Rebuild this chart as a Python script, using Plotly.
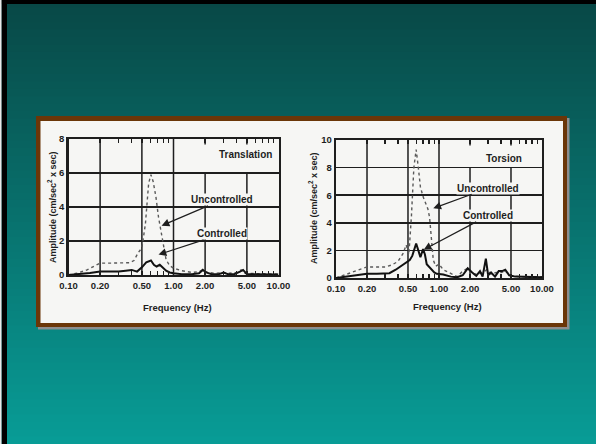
import numpy as np
import plotly.graph_objects as go

# ---------------- data ----------------
freq_ticks = [0.1, 0.2, 0.5, 1, 2, 5, 10]
freq_tick_labels = ["0.10", "0.20", "0.50", "1.00", "2.00", "5.00", "10.00"]
minor_ticks = [0.3, 0.4, 0.6, 0.7, 0.8, 0.9, 3, 4, 6, 7, 8, 9]

trans_unc_f = [0.10, 0.12, 0.15, 0.18, 0.20, 0.25, 0.30, 0.38, 0.42, 0.46,
               0.50, 0.54, 0.58, 0.61, 0.64, 0.68, 0.72, 0.76, 0.80, 0.85,
               0.92, 1.00, 1.2, 1.5, 1.75, 1.9, 2.1, 2.5, 3.0, 3.4,
               4.0, 4.4, 4.8, 6.0, 8.0, 10.0]
trans_unc_a = [0.0, 0.1, 0.3, 0.55, 0.7, 0.7, 0.7, 0.72, 0.85, 1.3,
               1.6, 3.0, 5.4, 5.9, 5.5, 4.6, 3.4, 2.6, 1.6, 0.9,
               0.55, 0.4, 0.25, 0.15, 0.2, 0.3, 0.15, 0.1, 0.15, 0.1,
               0.15, 0.3, 0.1, 0.08, 0.05, 0.05]

trans_con_f = [0.10, 0.13, 0.16, 0.20, 0.25, 0.30, 0.35, 0.40, 0.45, 0.50,
               0.55, 0.61, 0.65, 0.69, 0.74, 0.79, 0.85, 0.92, 1.00, 1.2,
               1.5, 1.75, 1.9, 2.05, 2.3, 2.7, 3.0, 3.3, 3.8, 4.3,
               4.6, 5.0, 6.0, 8.0, 10.0]
trans_con_a = [0.0, 0.05, 0.12, 0.2, 0.2, 0.2, 0.25, 0.3, 0.2, 0.45,
               0.75, 0.85, 0.6, 0.5, 0.6, 0.45, 0.25, 0.15, 0.1, 0.05,
               0.05, 0.1, 0.3, 0.15, 0.05, 0.05, 0.15, 0.05, 0.05, 0.2,
               0.3, 0.05, 0.05, 0.03, 0.03]

tors_unc_f = [0.10, 0.12, 0.15, 0.20, 0.25, 0.30, 0.35, 0.40, 0.45, 0.48,
              0.51, 0.54, 0.57, 0.60, 0.63, 0.66, 0.70, 0.74, 0.78, 0.81,
              0.84, 0.88, 0.93, 1.00, 1.1, 1.3, 1.5, 1.7, 1.9, 2.1,
              2.4, 2.7, 2.9, 3.2, 3.6, 4.0, 4.4, 5.0, 6.0, 8.0, 10.0]
tors_unc_a = [0.0, 0.2, 0.5, 0.8, 0.8, 0.8, 0.95, 1.2, 1.8, 2.4,
              1.7, 4.5, 8.0, 9.3, 8.0, 6.6, 5.9, 5.5, 5.0, 4.4,
              3.0, 1.3, 0.85, 1.0, 0.6, 0.35, 0.1, 0.5, 0.7, 0.3,
              0.3, 0.4, 0.6, 0.3, 0.4, 0.4, 0.5, 0.15, 0.1, 0.1, 0.1]

tors_con_f = [0.10, 0.13, 0.16, 0.20, 0.25, 0.30, 0.33, 0.38, 0.43, 0.48,
              0.52, 0.55, 0.58, 0.60, 0.63, 0.66, 0.70, 0.73, 0.76, 0.80,
              0.85, 0.90, 0.95, 1.0, 1.1, 1.3, 1.5, 1.7, 1.9, 2.1,
              2.3, 2.5, 2.65, 2.85, 3.0, 3.2, 3.5, 3.8, 4.1, 4.4,
              4.8, 5.5, 7.0, 10.0]
tors_con_a = [0.0, 0.1, 0.2, 0.3, 0.3, 0.3, 0.35, 0.6, 0.9, 1.1,
              1.3, 1.6, 2.2, 2.5, 2.0, 1.5, 2.1, 1.7, 1.0, 0.8,
              0.6, 0.4, 0.3, 0.3, 0.25, 0.1, 0.05, 0.2, 0.7, 0.4,
              0.15, 0.5, 0.1, 1.4, 0.2, 0.4, 0.1, 0.5, 0.5, 0.6,
              0.2, 0.1, 0.1, 0.05]

W, H = 596, 444
FONT = "Liberation Sans, Arial, sans-serif"
INK = "#1e1e1e"
CARD = "#f6f6f4"


def px(x):
    return x / W


def py(y):
    return 1 - y / H


fig = go.Figure()

unc_style = dict(color="#5a5a5a", width=1.4, dash="dot")
con_style = dict(color="#111111", width=2.0)

fig.add_trace(go.Scatter(x=trans_unc_f, y=trans_unc_a, mode="lines", line=unc_style,
                         xaxis="x", yaxis="y", showlegend=False))
fig.add_trace(go.Scatter(x=trans_con_f, y=trans_con_a, mode="lines", line=con_style,
                         xaxis="x", yaxis="y", showlegend=False))
fig.add_trace(go.Scatter(x=tors_unc_f, y=tors_unc_a, mode="lines", line=unc_style,
                         xaxis="x2", yaxis="y2", showlegend=False))
fig.add_trace(go.Scatter(x=tors_con_f, y=tors_con_a, mode="lines", line=con_style,
                         xaxis="x2", yaxis="y2", showlegend=False))

all_ticks = freq_ticks + minor_ticks
all_labels = freq_tick_labels + [""] * len(minor_ticks)

xcommon = dict(type="log", range=[-1, 1], tickvals=all_ticks, ticktext=all_labels,
               ticks="inside", ticklen=4, tickwidth=1.3, tickcolor=INK,
               showline=True, linewidth=2.2, linecolor=INK, mirror="ticks",
               showgrid=False, zeroline=False, fixedrange=True, automargin=False,
               tickfont=dict(family=FONT, size=9.5, color=INK, weight="bold"))
ycommon = dict(showline=True, linewidth=2.2, linecolor=INK, mirror=True,
               showgrid=True, gridcolor=INK, gridwidth=1.5, zeroline=False,
               ticks="", dtick=2, fixedrange=True, automargin=False,
               tickfont=dict(family=FONT, size=9.5, color=INK, weight="bold"))

L1 = (68.5, 278.5, 139, 275)
L2 = (336, 542, 140, 278)

fig.update_layout(
    width=W, height=H,
    margin=dict(l=0, r=0, t=0, b=0, pad=0, autoexpand=False),
    paper_bgcolor="#0a6f6b",
    plot_bgcolor=CARD,
    xaxis=dict(domain=[px(L1[0]), px(L1[1])], anchor="y", **xcommon),
    yaxis=dict(domain=[py(L1[3]), py(L1[2])], anchor="x", range=[0, 8], **ycommon),
    xaxis2=dict(domain=[px(L2[0]), px(L2[1])], anchor="y2", **xcommon),
    yaxis2=dict(domain=[py(L2[3]), py(L2[2])], anchor="x2", range=[0, 10], **ycommon),
)

# vertical gridlines: full height at 0.2/0.5/1, up to the last-but-one row at 2/5
for xa, ya, top in (("x", "y", 8), ("x2", "y2", 10)):
    for f in freq_ticks[1:-1]:
        y1 = top if f < 1.5 else top - 2
        fig.add_shape(type="line", xref=xa, yref=ya, x0=f, x1=f, y0=0, y1=y1,
                      line=dict(color=INK, width=1.5), layer="below")
        if f > 1.5:
            fig.add_shape(type="line", xref=xa, yref=ya, x0=f, x1=f, y0=top * 0.96, y1=top,
                          line=dict(color=INK, width=1.5), layer="below")

# ---------------- background decoration ----------------
top_c = np.array([8, 72, 70])
bot_c = np.array([8, 157, 151])
N = 60
for i in range(N):
    t = (i + 0.5) / N
    c = top_c + (bot_c - top_c) * t
    fig.add_shape(type="rect", xref="paper", yref="paper",
                  x0=0, x1=1, y0=1 - (i + 1) / N - 0.002, y1=1 - i / N,
                  line=dict(width=0), fillcolor="rgb(%d,%d,%d)" % tuple(c.astype(int)),
                  layer="below")
fig.add_shape(type="rect", xref="paper", yref="paper", x0=px(1.5), x1=px(7), y0=0, y1=1,
              line=dict(width=0), fillcolor="#000000", layer="below")
fig.add_shape(type="rect", xref="paper", yref="paper", x0=px(1.5), x1=1, y0=py(4), y1=1,
              line=dict(width=0), fillcolor="#000000", layer="below")
fig.add_shape(type="rect", xref="paper", yref="paper", x0=0, x1=px(1.5), y0=0, y1=1,
              line=dict(width=0), fillcolor="#e8e8e8", layer="below")
# box: shadow, brown frame, white card
fig.add_shape(type="rect", xref="paper", yref="paper", x0=px(38), x1=px(569.5), y0=py(329.5), y1=py(118),
              line=dict(width=0), fillcolor="#8e8e8e", layer="below")
fig.add_shape(type="rect", xref="paper", yref="paper", x0=px(36), x1=px(567), y0=py(327), y1=py(116),
              line=dict(width=0), fillcolor="#6b3608", layer="below")
fig.add_shape(type="rect", xref="paper", yref="paper", x0=px(40.5), x1=px(563), y0=py(323), y1=py(121),
              line=dict(width=0), fillcolor=CARD, layer="below")

# ---------------- text ----------------
def txt(x, y, s, size=10, xref="paper", yref="paper", angle=0, **kw):
    fig.add_annotation(x=x, y=y, xref=xref, yref=yref, text=s, showarrow=False,
                       textangle=angle, xanchor="center", yanchor="middle",
                       font=dict(family=FONT, size=size, color=INK, weight="bold"), **kw)


ytitle = "Amplitude (cm/sec<sup>2</sup> x sec)"
txt(px(52), py(207), ytitle, size=9, angle=-90)
txt(px(313), py(208), ytitle, size=9, angle=-90)
txt(px(177), py(307), "Frequency (Hz)", size=9.5)
txt(px(447), py(306), "Frequency (Hz)", size=9.5)

txt(np.log10(4.8), 7.1, "Translation", size=10, xref="x", yref="y")
txt(np.log10(4.3), 8.65, "Torsion", size=10, xref="x2", yref="y2")

labels = [
    # axis pair, label text, label centre (f, a), arrow head (f, a)
    ("x", "y", "Uncontrolled", (2.9, 4.42), (0.77, 2.9)),
    ("x", "y", "Controlled", (2.9, 2.42), (0.72, 1.2)),
    ("x2", "y2", "Uncontrolled", (3.0, 6.5), (0.88, 5.05)),
    ("x2", "y2", "Controlled", (2.96, 4.5), (0.71, 2.05)),
]
for xa, ya, s, (lf, la), (hf, ha) in labels:
    fig.add_annotation(x=np.log10(hf), y=ha, xref=xa, yref=ya,
                       ax=np.log10(lf), ay=la, axref=xa, ayref=ya,
                       text=s, showarrow=True, arrowhead=2, arrowsize=1.3,
                       arrowwidth=1.2, arrowcolor=INK, bgcolor=CARD, borderpad=0,
                       font=dict(family=FONT, size=10, color=INK, weight="bold"))

fig.write_html(
    "out.html",
    config={"displayModeBar": False, "staticPlot": True},
    post_script="document.body.style.margin='0';document.body.style.overflow='hidden';",
)
